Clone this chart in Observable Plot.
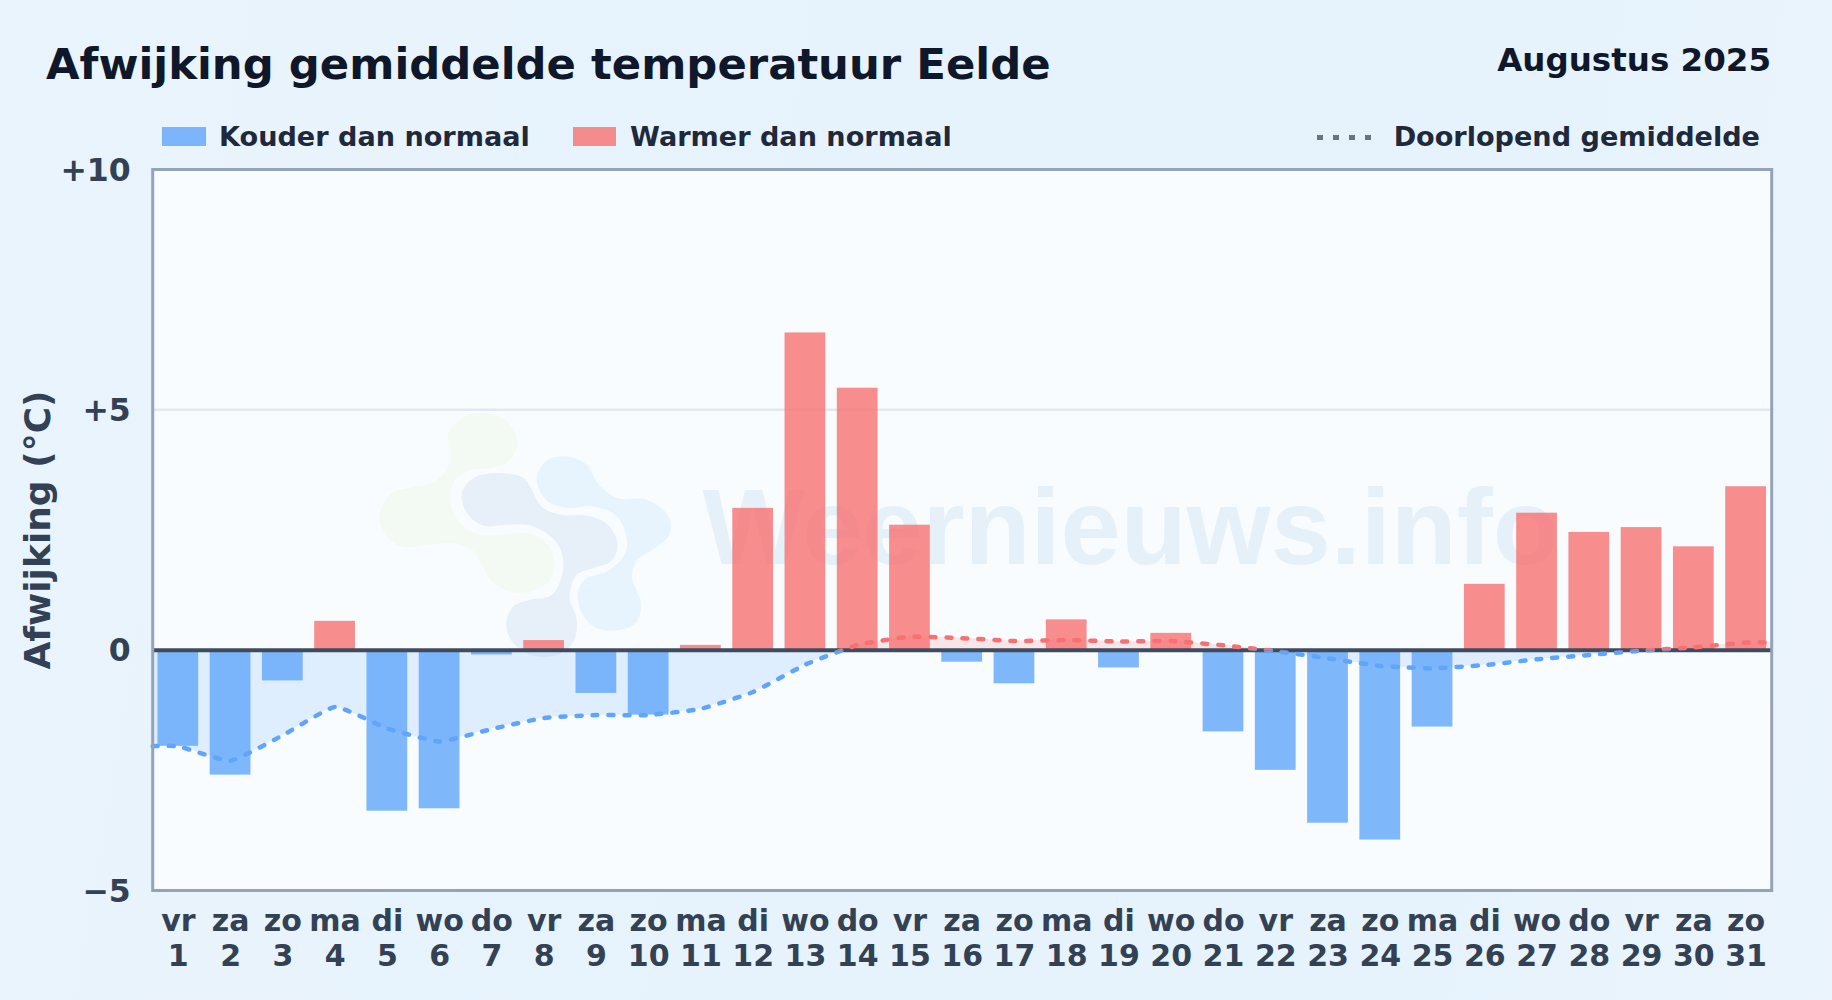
<!DOCTYPE html>
<html lang="nl"><head><meta charset="utf-8">
<script src="https://cdn.jsdelivr.net/npm/d3@7"></script>
<script src="https://cdn.jsdelivr.net/npm/@observablehq/plot@0.6"></script>
<style>
html,body{margin:0;padding:0}
body{width:1832px;height:1000px;overflow:hidden;position:relative;font-family:"DejaVu Sans",sans-serif;font-weight:700;
background:linear-gradient(100deg,#e9f4fd 0%,#e7f3fc 45%,#e7f3fc 80%,#ebf4fd 100%)}
#head{position:relative;height:150px}
#head>*{position:absolute;white-space:nowrap}
#title{left:46px;top:37px;font-size:43.35px;line-height:54px;color:#0f172a}
#date{right:61px;top:40px;font-size:32.5px;line-height:40px;color:#0f172a}
.lab{font-size:27.1px;line-height:32px;color:#1e293b;top:121px}
.sw{top:127px;height:19px}
#chart{position:absolute;left:0;top:150px}
</style></head><body>
<div id="head"></div><div id="chart"></div>
<script>
const days = d3.range(1, 32);
const weekdays = ["vr","za","zo","ma","di","wo","do","vr","za","zo","ma","di","wo","do","vr","za","zo","ma","di","wo","do","vr","za","zo","ma","di","wo","do","vr","za","zo"];
const deviation = [-2.0,-2.6,-0.64,0.6,-3.35,-3.3,-0.1,0.2,-0.9,-1.35,0.1,2.95,6.6,5.45,2.6,-0.25,-0.7,0.63,-0.37,0.35,-1.7,-2.5,-3.6,-3.95,-1.6,1.37,2.85,2.45,2.55,2.15,3.4];
const runningMean = [-2.0,-2.3,-1.77,-1.18,-1.63,-1.9,-1.64,-1.41,-1.35,-1.35,-1.22,-0.87,-0.3,0.11,0.28,0.25,0.19,0.21,0.18,0.19,0.1,-0.02,-0.17,-0.33,-0.38,-0.31,-0.19,-0.1,-0.01,0.06,0.16];
const yTicks = [-5,0,5,10];
const xDomain = [0.51, 31.49];
const barHalf = 0.39;
const colors = {blue:"rgba(96,165,250,0.8)",red:"rgba(248,113,113,0.8)",blueLine:"#60a5fa",redLine:"#f87171",blueFill:"rgba(96,165,250,0.16)",redFill:"rgba(248,113,113,0.16)",ink:"#334155"};

const bars = days.map((d,i)=>({day:d,v:deviation[i]}));
const meanPts = [{day:xDomain[0],v:runningMean[0]},...days.map((d,i)=>({day:d,v:runningMean[i]})),{day:xDomain[1],v:runningMean[30]}];

/* header + legend */
const head = document.getElementById("head");
const add=(id,cls,txt,st)=>{const e=document.createElement("div");if(id)e.id=id;if(cls)e.className=cls;e.textContent=txt||"";Object.assign(e.style,st||{});head.append(e);return e};
add("title","","Afwijking gemiddelde temperatuur Eelde");
add("date","","Augustus 2025");
add("","sw","",{left:"162px",width:"44px",background:colors.blue});
add("","lab","Kouder dan normaal",{left:"219px"});
add("","sw","",{left:"573px",width:"43px",background:colors.red});
add("","lab","Warmer dan normaal",{left:"630px"});
add("","lab","Doorlopend gemiddelde",{right:"72px"});
const dots=add("","","",{left:"1317px",top:"135px",width:"54px",height:"5px",
  background:"repeating-linear-gradient(90deg,#64748b 0 6px,transparent 6px 16px)"});

/* faint watermark logo */
const logoBlobs=[
 {fill:"#f3f9f3",pts:[[265,100],[310,50],[370,40],[435,60],[472,125],[445,185],[400,203],[330,212],[285,240],[270,310],[300,370],[350,403],[420,405],[500,400],[555,425],[582,480],[570,540],[520,572],[460,578],[400,550],[365,495],[335,450],[280,430],[200,435],[130,442],[80,410],[58,345],[95,280],[160,262],[225,245],[268,190]]},
 {fill:"#e7f0f8",pts:[[305,280],[340,235],[420,220],[490,235],[515,270],[545,322],[600,345],[680,348],[740,372],[772,430],[755,482],[700,505],[650,525],[628,590],[650,660],[640,725],[590,766],[510,765],[455,725],[438,670],[460,620],[510,600],[575,585],[610,500],[590,430],[520,380],[440,375],[370,378],[320,340]]},
 {fill:"#e7f4fe",pts:[[530,230],[560,182],[620,170],[680,195],[712,250],[770,295],[860,300],[925,350],[928,405],[885,445],[832,480],[815,530],[842,610],[830,665],[770,692],[700,680],[660,630],[655,570],[680,535],[740,515],[790,470],[800,420],[770,350],[700,320],[630,325],[570,310],[540,275]]}
];
const logoAnchor={day:4.49,value:5.2};
const blobPath=d3.line().curve(d3.curveCatmullRomClosed.alpha(0.5));
function logoMark(index,scales){
  const g=d3.create("svg:g").attr("transform",`translate(${scales.x(logoAnchor.day)},${scales.y(logoAnchor.value)}) scale(${1/3})`);
  logoBlobs.forEach(b=>g.append("path").attr("d",blobPath(b.pts)).attr("fill",b.fill));
  return g.node();
}
function clipSide(side){
  return (index,scales,values,dims,ctx,next)=>{
    const node=next(index,scales,values,dims,ctx);
    const id="clip-"+side+"-"+Math.random().toString(36).slice(2,8);
    const y0=scales.y(0);
    const cp=d3.create("svg:clipPath").attr("id",id);
    cp.append("rect").attr("x",0).attr("width",dims.width)
      .attr("y",side==="above"?0:y0).attr("height",side==="above"?y0:dims.height-y0);
    node.insertBefore(cp.node(),node.firstChild);
    node.setAttribute("clip-path",`url(#${id})`);
    return node;
  };
}
const curveOpts={curve:"cardinal",tension:0.6};
const lineOpts={x:"day",y:"v",...curveOpts,strokeWidth:4.5,strokeDasharray:"5 11",strokeLinecap:"round"};
const plot=Plot.plot({
  width:1832,height:850,marginTop:19,marginBottom:110,marginLeft:152.2,marginRight:60.8,
  style:{background:"transparent",fontFamily:"'DejaVu Sans',sans-serif",overflow:"visible"},
  x:{domain:xDomain,axis:null},
  y:{domain:[-5,10],axis:null},
  marks:[
    Plot.frame({fill:"#f8fcff",stroke:"none"}),
    logoMark,
    Plot.text(["Weernieuws.info"],{x:[11.03],y:[1.77],text:d=>d,textAnchor:"start",lineAnchor:"bottom",fontFamily:"'Liberation Sans',sans-serif",fontWeight:700,fontSize:108,fill:"#e6f0f9",dy:-1}),
    Plot.ruleY([5],{stroke:"#e2e8f0",strokeWidth:2.5}),
    Plot.areaY(meanPts,{x:"day",y1:0,y2:"v",...curveOpts,fill:colors.blueFill,render:clipSide("below")}),
    Plot.areaY(meanPts,{x:"day",y1:0,y2:"v",...curveOpts,fill:colors.redFill,render:clipSide("above")}),
    Plot.rectY(bars,{x1:d=>d.day-barHalf,x2:d=>d.day+barHalf,y1:0,y2:"v",fill:d=>d.v<0?colors.blue:colors.red}),
    Plot.ruleY([0],{stroke:"#3f4c60",strokeWidth:4}),
    Plot.line(meanPts,{...lineOpts,stroke:colors.blueLine,render:clipSide("below")}),
    Plot.line(meanPts,{...lineOpts,stroke:colors.redLine,render:clipSide("above")}),
    Plot.frame({stroke:"#94a3b8",strokeWidth:3}),
    Plot.axisY({ticks:yTicks,tickSize:0,tickPadding:22,fontSize:31.5,fontWeight:700,fill:colors.ink,label:null,dy:1,
      tickFormat:v=>v>0?"+"+v:v<0?"\u2212"+Math.abs(v):"0"}),
    Plot.text(days,{x:d=>d,frameAnchor:"bottom",text:d=>weekdays[d-1]+"\n"+d,lineAnchor:"top",lineHeight:1.16,dy:16,fontSize:30,fontWeight:700,fill:colors.ink}),
    Plot.text(["Afwijking (\u00b0C)"],{frameAnchor:"left",textAnchor:"middle",rotate:-90,dx:-114,fontSize:36,fontWeight:700,fill:colors.ink,text:d=>d})
  ]
});
document.getElementById("chart").append(plot);
</script>
</body></html>
